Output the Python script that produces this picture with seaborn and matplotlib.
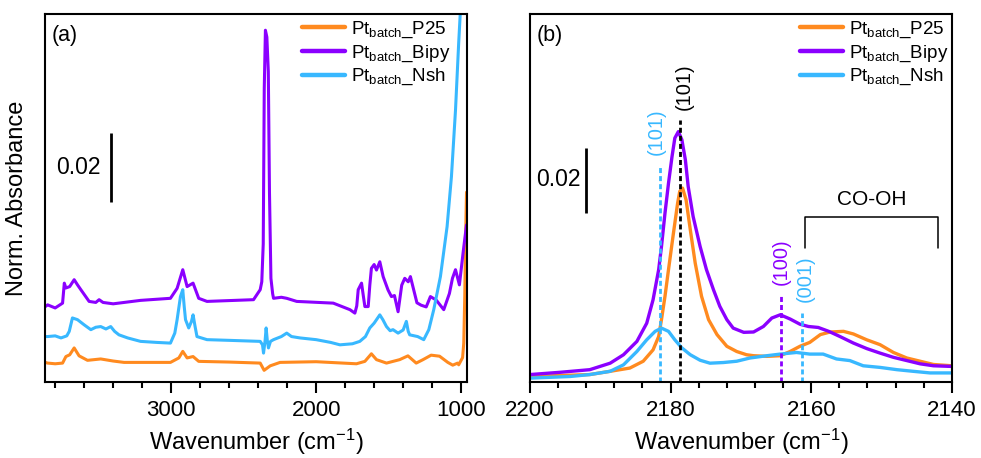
import matplotlib
matplotlib.use('Agg')
import matplotlib.pyplot as plt
from matplotlib.ticker import MultipleLocator
import seaborn as sns

# ---- colours / labels ----
c_p25 = '#FF8A1F'
c_bipy = '#8B00FF'
c_nsh = '#38B8FF'
names = [r'Pt$_{\mathregular{batch}}$_P25',
         r'Pt$_{\mathregular{batch}}$_Bipy',
         r'Pt$_{\mathregular{batch}}$_Nsh']

# ---- panel (a): full range spectra ----
wn_a_p25 = [3868, 3852, 3800, 3749, 3726, 3700, 3669, 3650, 3635, 3577, 3486, 3400, 3325,
            3005, 2947, 2920, 2890, 2849, 2810, 2600, 2386, 2359, 2317, 2249, 2000, 1722,
            1664, 1619, 1584, 1515, 1424, 1367, 1310, 1263, 1207, 1149, 1092, 1058, 1024,
            1017, 990, 982, 975, 970, 963]
abs_a_p25 = [0.0056, 0.0054, 0.0052, 0.0054, 0.0073, 0.0078, 0.0098, 0.0085, 0.0075, 0.0062,
             0.0066, 0.0060, 0.0056, 0.0056, 0.0069, 0.0088, 0.0069, 0.0073, 0.0059, 0.0057,
             0.0054, 0.0033, 0.0046, 0.0056, 0.0058, 0.0052, 0.0059, 0.0081, 0.0064, 0.0054,
             0.0064, 0.0075, 0.0054, 0.0064, 0.0077, 0.0074, 0.0056, 0.0048, 0.0054,
             0.0049, 0.0070, 0.0112, 0.0250, 0.0403, 0.0550]

wn_a_bipy = [3868, 3852, 3800, 3749, 3737, 3726, 3700, 3669, 3646, 3623, 3566, 3520, 3497,
             3470, 3400, 3211, 3005, 2959, 2920, 2890, 2849, 2810, 2753, 2432, 2386, 2375,
             2365, 2358, 2350, 2340, 2330, 2322, 2312, 2300, 2294, 2240, 2203, 2134, 1882,
             1767, 1733, 1720, 1710, 1687, 1675, 1664, 1641, 1630, 1619, 1600, 1584, 1561,
             1538, 1504, 1481, 1460, 1435, 1410, 1389, 1365, 1350, 1305, 1276, 1241, 1212,
             1172, 1120, 1081, 1060, 1039, 1012, 985, 963]
abs_a_bipy = [0.0218, 0.0223, 0.0214, 0.0228, 0.0286, 0.0272, 0.0276, 0.0296, 0.0281, 0.0267,
              0.0233, 0.0230, 0.0238, 0.0230, 0.0226, 0.0236, 0.0242, 0.0271, 0.0325, 0.0276,
              0.0286, 0.0242, 0.0233, 0.0238, 0.0267, 0.0290, 0.0400, 0.0850, 0.1020, 0.1000,
              0.0900, 0.0550, 0.0300, 0.0255, 0.0242, 0.0245, 0.0242, 0.0233, 0.0228, 0.0209,
              0.0199, 0.0220, 0.0267, 0.0286, 0.0250, 0.0218, 0.0218, 0.0280, 0.0329, 0.0340,
              0.0324, 0.0348, 0.0305, 0.0266, 0.0247, 0.0250, 0.0203, 0.0280, 0.0300, 0.0290,
              0.0305, 0.0229, 0.0222, 0.0217, 0.0247, 0.0237, 0.0209, 0.0256, 0.0300, 0.0325,
              0.0281, 0.0380, 0.0455]

wn_a_nsh = [3868, 3852, 3800, 3760, 3720, 3703, 3681, 3660, 3646, 3600, 3554, 3520, 3486,
            3450, 3417, 3390, 3360, 3300, 3211, 3100, 3005, 2975, 2959, 2936, 2920, 2910,
            2901, 2879, 2860, 2849, 2835, 2822, 2753, 2600, 2386, 2370, 2363, 2352, 2345,
            2337, 2329, 2315, 2294, 2240, 2203, 2170, 2111, 2000, 1900, 1836, 1750, 1699,
            1660, 1630, 1600, 1561, 1540, 1515, 1490, 1470, 1435, 1400, 1378, 1365, 1355,
            1300, 1258, 1223, 1189, 1143, 1097, 1067, 1039, 1017, 1005, 995]
abs_a_nsh = [0.0131, 0.0131, 0.0133, 0.0127, 0.0133, 0.0146, 0.0185, 0.0182, 0.0180, 0.0165,
             0.0151, 0.0158, 0.0160, 0.0153, 0.0160, 0.0146, 0.0136, 0.0127, 0.0117, 0.0114,
             0.0112, 0.0141, 0.0180, 0.0247, 0.0267, 0.0218, 0.0180, 0.0156, 0.0175, 0.0194,
             0.0160, 0.0131, 0.0122, 0.0120, 0.0117, 0.0107, 0.0083, 0.0120, 0.0156, 0.0120,
             0.0098, 0.0117, 0.0122, 0.0131, 0.0141, 0.0131, 0.0127, 0.0122, 0.0114, 0.0107,
             0.0110, 0.0117, 0.0131, 0.0156, 0.0170, 0.0194, 0.0180, 0.0160, 0.0148, 0.0151,
             0.0141, 0.0150, 0.0175, 0.0146, 0.0136, 0.0131, 0.0122, 0.0151, 0.0209, 0.0305,
             0.0450, 0.0595, 0.0788, 0.0983, 0.1078, 0.1180]

# ---- panel (b): CO region ----
wn_b_p25 = [2200, 2194.3, 2191.5, 2188.6, 2185.8, 2183.9, 2182.5, 2181.7, 2181.3, 2180.8,
            2180.3, 2179.6, 2179.0, 2178.7, 2178.3, 2177.8, 2177.2, 2176.5, 2175.6, 2174.6,
            2173.4, 2172.0, 2170.6, 2169.2, 2168.2, 2166.3, 2164.4, 2163.0, 2161.6, 2160.2,
            2158.7, 2157.3, 2155.4, 2154.0, 2152.1, 2150.2, 2148.3, 2146.4, 2144.5, 2142.6,
            2140.0]
abs_b_p25 = [0.0016, 0.0020, 0.0022, 0.0032, 0.0042, 0.0063, 0.0098, 0.0139, 0.0191, 0.0263,
             0.0345, 0.0457, 0.0550, 0.0586, 0.0596, 0.0560, 0.0468, 0.0365, 0.0263, 0.0191,
             0.0145, 0.0109, 0.0093, 0.0083, 0.0080, 0.0078, 0.0080, 0.0093, 0.0109, 0.0121,
             0.0145, 0.0153, 0.0155, 0.0147, 0.0129, 0.0114, 0.0090, 0.0073, 0.0063, 0.0053,
             0.0049]

wn_b_bipy = [2200, 2195.7, 2191.5, 2188.6, 2186.7, 2184.8, 2183.4, 2182.5, 2181.7, 2181.3,
             2180.8, 2180.3, 2179.8, 2179.4, 2178.9, 2178.4, 2177.9, 2177.5, 2176.8, 2175.8,
             2174.9, 2173.9, 2173.0, 2172.0, 2171.1, 2169.6, 2168.2, 2166.8, 2165.6, 2164.4,
             2163.0, 2161.6, 2160.4, 2159.0, 2157.5, 2155.9, 2154.0, 2152.1, 2150.2, 2148.3,
             2146.4, 2144.5, 2142.6, 2140.0]
abs_b_bipy = [0.0022, 0.0029, 0.0037, 0.0057, 0.0083, 0.0124, 0.0180, 0.0252, 0.0345, 0.0416,
              0.0519, 0.0611, 0.0693, 0.0750, 0.0770, 0.0745, 0.0683, 0.0601, 0.0509, 0.0416,
              0.0345, 0.0283, 0.0232, 0.0191, 0.0165, 0.0152, 0.0153, 0.0170, 0.0196, 0.0206,
              0.0193, 0.0177, 0.0170, 0.0167, 0.0155, 0.0139, 0.0119, 0.0102, 0.0088, 0.0075,
              0.0065, 0.0055, 0.0049, 0.0047]

wn_b_nsh = [2200, 2194.3, 2191.5, 2188.6, 2186.7, 2184.8, 2183.4, 2182.2, 2181.3, 2180.3,
            2179.4, 2178.4, 2177.2, 2175.8, 2174.4, 2172.5, 2170.6, 2168.7, 2166.3, 2164.4,
            2162.1, 2160.2, 2158.3, 2156.4, 2154.5, 2152.6, 2150.2, 2147.8, 2145.5, 2143.1,
            2140.0]
abs_b_nsh = [0.0011, 0.0016, 0.0022, 0.0032, 0.0052, 0.0093, 0.0129, 0.0155, 0.0165, 0.0155,
             0.0129, 0.0104, 0.0083, 0.0066, 0.0057, 0.0059, 0.0063, 0.0073, 0.0080, 0.0085,
             0.0090, 0.0085, 0.0085, 0.0070, 0.0065, 0.0049, 0.0044, 0.0037, 0.0032, 0.0027,
             0.0027]

# facet assignments in (b)
facet_pos = [2178.6, 2181.5, 2164.3, 2161.3]
facet_top = [0.0806, 0.0662, 0.0268, 0.0212]
facet_txt = ['(101)', '(101)', '(100)', '(001)']
facet_col = ['black', c_nsh, c_bipy, c_nsh]
facet_txt_x = [2178.0, 2182.1, 2164.3, 2160.9]
facet_txt_y = [0.0909, 0.0769, 0.0368, 0.0318]

# ---- style ----
sns.set_style('ticks')
plt.rcParams['font.family'] = ['Liberation Sans', 'DejaVu Sans']
plt.rcParams['mathtext.fontset'] = 'custom'
plt.rcParams['mathtext.rm'] = 'Liberation Sans'
plt.rcParams['mathtext.it'] = 'Liberation Sans:italic'
plt.rcParams['axes.linewidth'] = 1.5
plt.rcParams['axes.edgecolor'] = 'black'
plt.rcParams['text.color'] = 'black'
plt.rcParams['axes.labelcolor'] = 'black'
plt.rcParams['xtick.color'] = 'black'
plt.rcParams['xtick.labelcolor'] = 'black'

fig = plt.figure(figsize=(9.81, 4.58), dpi=100)
ax_a = fig.add_axes([0.0459, 0.1666, 0.4298, 0.8028])
ax_b = fig.add_axes([0.5403, 0.1666, 0.4299, 0.8028])

for x, y, c, n in [(wn_a_p25, abs_a_p25, c_p25, names[0]),
                   (wn_a_bipy, abs_a_bipy, c_bipy, names[1]),
                   (wn_a_nsh, abs_a_nsh, c_nsh, names[2])]:
    sns.lineplot(x=x, y=y, ax=ax_a, color=c, lw=2.2, label=n, sort=False, estimator=None)

for x, y, c, n in [(wn_b_p25, abs_b_p25, c_p25, names[0]),
                   (wn_b_bipy, abs_b_bipy, c_bipy, names[1]),
                   (wn_b_nsh, abs_b_nsh, c_nsh, names[2])]:
    sns.lineplot(x=x, y=y, ax=ax_b, color=c, lw=2.4, label=n, sort=False, estimator=None)

ax_a.set_xlim(3870, 962)
ax_a.set_ylim(0, 0.1067)
ax_b.set_xlim(2200, 2140)
ax_b.set_ylim(0, 0.1132)

ax_a.xaxis.set_major_locator(MultipleLocator(1000))
ax_a.xaxis.set_minor_locator(MultipleLocator(200))
ax_b.xaxis.set_major_locator(MultipleLocator(20))
ax_b.xaxis.set_minor_locator(MultipleLocator(4))

for ax, tag in [(ax_a, '(a)'), (ax_b, '(b)')]:
    ax.set_yticks([])
    ax.set_ylabel('')
    ax.tick_params(axis='x', which='major', direction='out', length=8, width=1.5,
                   labelsize=16, pad=5, color='black')
    ax.tick_params(axis='x', which='minor', direction='out', length=4, width=1.5,
                   color='black')
    ax.set_xlabel(r'Wavenumber (cm$^{\mathregular{-1}}$)', fontsize=17, labelpad=4)
    for s in ax.spines.values():
        s.set_visible(True)
        s.set_linewidth(1.5)
        s.set_color('black')
    ax.text(0.016, 0.941, tag, transform=ax.transAxes, fontsize=15.5,
            ha='left', va='center')

ax_a.set_ylabel('Norm. Absorbance', fontsize=17)
ax_a.yaxis.set_label_coords(-0.04, 0.5)

# legends
for ax, xa in [(ax_a, 0.609), (ax_b, 0.640)]:
    leg = ax.legend(loc='upper left', bbox_to_anchor=(xa, 0.985), frameon=False,
                    fontsize=13.5, handlelength=2.3, handletextpad=0.3,
                    labelspacing=0.18, borderpad=0, borderaxespad=0)
    for ln in leg.get_lines():
        ln.set_linewidth(3.2)

# scale bars
ax_a.vlines(3412, 0.0522, 0.0722, color='black', lw=2)
ax_a.text(3488, 0.0622, '0.02', fontsize=16.5, ha='right', va='center')
ax_b.vlines(2192, 0.0520, 0.0720, color='black', lw=2)
ax_b.text(2192.8, 0.0622, '0.02', fontsize=16.5, ha='right', va='center')

# facet markers
for xp, yt, t, c, tx, ty in zip(facet_pos, facet_top, facet_txt, facet_col,
                                 facet_txt_x, facet_txt_y):
    ax_b.vlines(xp, 0, yt, color=c, lw=2, linestyles=(0, (1.8, 1.1)))
    ax_b.text(tx, ty, t, color=c, rotation=90, fontsize=14.5, ha='center', va='center')

# CO-OH bracket
ax_b.plot([2160.9, 2160.9, 2141.95, 2141.95], [0.0412, 0.0508, 0.0508, 0.0412],
          color='black', lw=1.1)
ax_b.text(2151.4, 0.0560, 'CO-OH', fontsize=15, ha='center', va='center')

fig.savefig('out.png', dpi=100)
